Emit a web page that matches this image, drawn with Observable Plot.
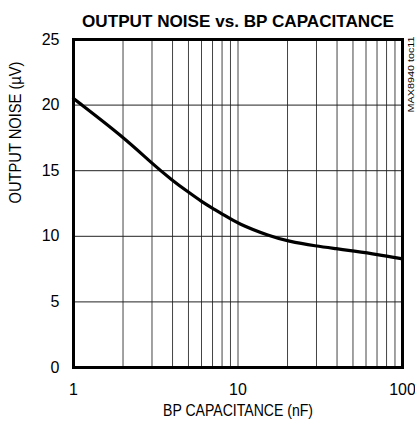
<!DOCTYPE html>
<html>
<head>
<meta charset="utf-8">
<script src="https://cdn.jsdelivr.net/npm/d3@7"></script>
<script src="https://cdn.jsdelivr.net/npm/@observablehq/plot@0.6"></script>
<style>
  body { margin: 0; background: #fff; }
</style>
</head>
<body>
<div id="chart"></div>
<script>
const title = "OUTPUT NOISE vs. BP CAPACITANCE";
const xLabel = "BP CAPACITANCE (nF)";
const yLabel = "OUTPUT NOISE (µV)";
const note = "MAX8940 toc11";

const capacitance = [1, 2, 3, 4, 5, 6, 7, 8, 10, 15.7, 20, 30, 40, 50, 70, 100];
const noise = [20.5, 17.6, 15.55, 14.25, 13.36, 12.65, 12.14, 11.71, 10.95, 10.0, 9.63, 9.25, 9.05, 8.88, 8.62, 8.28];

const xTicks = [1, 10, 100];
const xGrid = [2, 3, 4, 5, 6, 7, 8, 9, 10, 20, 30, 40, 50, 60, 70, 80, 90];
const yTicks = [0, 5, 10, 15, 20, 25];
const yGrid = [5, 10, 15, 20];

const data = capacitance.map((c, i) => ({c, n: noise[i]}));
const font = "'Liberation Sans', Arial, sans-serif";

const chart = Plot.plot({
  width: 415,
  height: 431,
  marginLeft: 73,
  marginRight: 13,
  marginTop: 39,
  marginBottom: 64,
  style: {fontFamily: font, fontSize: "16px", color: "#000", background: "#fff"},
  x: {type: "log", domain: [1, 100]},
  y: {domain: [0, 25]},
  marks: [
    Plot.ruleX(xGrid, {stroke: "#444", strokeWidth: 1}),
    Plot.ruleY(yGrid, {stroke: "#222", strokeWidth: 1}),
    Plot.frame({stroke: "#000", strokeWidth: 3}),
    Plot.line(data, {x: "c", y: "n", stroke: "#000", strokeWidth: 3.2, curve: "basis"}),
    Plot.axisX({ticks: xTicks, tickFormat: d => String(d), tickSize: 0, tickPadding: 16, label: null, fontSize: 16}),
    Plot.axisY({ticks: yTicks, tickFormat: d => String(d), tickSize: 0, tickPadding: 14, label: null, fontSize: 16}),
    Plot.text([xLabel], {frameAnchor: "bottom", dy: 48, fontSize: 16}),
    Plot.text([yLabel], {frameAnchor: "left", dx: -58, rotate: -90, fontSize: 16}),
    Plot.text([title], {frameAnchor: "top", dy: -25, fontSize: 17, fontWeight: 900}),
    Plot.text([note], {frameAnchor: "top-right", dx: 5, dy: -3, rotate: -90, textAnchor: "end", fontSize: 9.5})
  ]
});

// condensed look: fit the labels to the widths they have in the reference
const fit = {[xLabel]: 150, [yLabel]: 142, [title]: 312, [note]: 76};
chart.querySelectorAll("text").forEach(t => {
  const w = fit[t.textContent];
  if (w) {
    t.setAttribute("textLength", w);
    t.setAttribute("lengthAdjust", "spacingAndGlyphs");
  }
});
document.getElementById("chart").appendChild(chart);
</script>
</body>
</html>
